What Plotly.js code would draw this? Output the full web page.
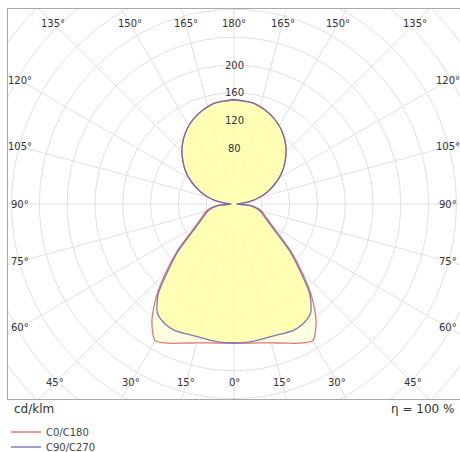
<!DOCTYPE html>
<html><head><meta charset="utf-8">
<script src="https://cdn.plot.ly/plotly-3.0.1.min.js"></script>
<style>html,body{margin:0;padding:0;background:#fff;overflow:hidden}#chart{width:460px;height:452px}</style>
</head><body><div id="chart"></div>
<script>
// Gamma angles (degrees from nadir) and intensities in cd/klm
const gammaAngles = [0,5,10,15,20,25,30,35,40,45,50,55,60,65,70,75,80,85,90,95,100,105,110,115,120,125,130,135,140,145,150,155,160,165,170,175,180];
const c0c180 = [200,201,203,207,213,221,227,206,174,138,108,81,64,54,47,42,34,25,4,13,26,39,51,63,75,86,96,106,115,123,130,136,141,145,148,149,150];
const c90c270 = [200,200,199,198,199,201,199,192,170,133,104,77,61,51,44,39,31,22,4,13,26,39,51,63,75,86,96,106,115,123,130,136,141,145,148,149,150];
const seriesNames = ['C0/C180','C90/C270'];
const gridRadii = [40,80,120,160,200,240,280,320,360,400,440];
const radialTickValues = [80,120,160,200];
const angleLabelStep = 15;
const unitLabel = 'cd/klm';
const efficiencyLabel = 'η = 100 %';

const D = Math.PI/180;
function closedCurve(vals){
  const x=[],y=[];
  for(let i=0;i<gammaAngles.length;i++){const g=gammaAngles[i]*D;x.push(vals[i]*Math.sin(g));y.push(-vals[i]*Math.cos(g));}
  for(let i=gammaAngles.length-1;i>=0;i--){const g=gammaAngles[i]*D;x.push(-vals[i]*Math.sin(g));y.push(-vals[i]*Math.cos(g));}
  return {x,y};
}
const gx=[],gy=[];
gridRadii.forEach(r=>{for(let a=0;a<=360;a+=2){const t=a*D;gx.push(r*Math.cos(t));gy.push(r*Math.sin(t));}gx.push(null);gy.push(null);});
const rx=[],ry=[];
for(let a=0;a<360;a+=angleLabelStep){const t=a*D;rx.push(gridRadii[0]*Math.sin(t),600*Math.sin(t),null);ry.push(-gridRadii[0]*Math.cos(t),-600*Math.cos(t),null);}

const red='#e27676', blue='#6a64b4';
const cr=closedCurve(c0c180), cb=closedCurve(c90c270);
const font='DejaVu Sans, Verdana, sans-serif';
const sm={shape:'spline',smoothing:0.7};
const traces=[
  {x:gx,y:gy,mode:'lines',line:{color:'#e0e0e0',width:1},hoverinfo:'skip',showlegend:false},
  {x:rx,y:ry,mode:'lines',line:{color:'#e0e0e0',width:1},hoverinfo:'skip',showlegend:false},
  {x:cr.x,y:cr.y,mode:'lines',fill:'toself',fillcolor:'rgba(255,255,200,0.55)',line:Object.assign({width:0},sm),hoverinfo:'skip',showlegend:false},
  {x:cb.x,y:cb.y,mode:'lines',fill:'toself',fillcolor:'rgba(255,255,140,0.5)',line:Object.assign({width:0},sm),hoverinfo:'skip',showlegend:false},
  {x:cr.x,y:cr.y,mode:'lines',name:seriesNames[0],line:Object.assign({color:red,width:1.3},sm),legend:'legend'},
  {x:cb.x,y:cb.y,mode:'lines',name:seriesNames[1],line:Object.assign({color:blue,width:1.3},sm),opacity:0.85,legend:'legend2'}
];

const pxPerUnit=0.695;
const W=214/pxPerUnit, Ht=179/pxPerUnit, Hb=181/pxPerUnit;
const ann=[];
for(let a=0;a<360;a+=angleLabelStep){
  const t=a*D, dx=Math.sin(t), dy=-Math.cos(t);
  const H = dy<0?Ht:Hb;
  const s=Math.min(Math.abs(dx)>1e-9?W/Math.abs(dx):1e9, Math.abs(dy)>1e-9?H/Math.abs(dy):1e9);
  const lab = a<=180?a:360-a;
  ann.push({x:s*dx,y:s*dy,xref:'x',yref:'y',text:lab+'°',showarrow:false,font:{family:font,size:10,color:'#333'},xanchor:'center',yanchor:'middle'});
}
radialTickValues.forEach(v=>ann.push({x:0,y:v,xref:'x',yref:'y',text:String(v),showarrow:false,font:{family:font,size:10,color:'#333'},xanchor:'center',yanchor:'middle'}));
ann.push({x:4/452,y:(399-409)/390,xref:'paper',yref:'paper',text:unitLabel,showarrow:false,xanchor:'left',yanchor:'middle',font:{family:font,size:12,color:'#333'}});
ann.push({x:448/452,y:(399-409)/390,xref:'paper',yref:'paper',text:efficiencyLabel,showarrow:false,xanchor:'right',yanchor:'middle',font:{family:font,size:12,color:'#333'}});

const legBase={xref:'container',yref:'container',x:6/460,xanchor:'left',yanchor:'middle',font:{family:font,size:10,color:'#444'},bgcolor:'rgba(0,0,0,0)',borderwidth:0};
const layout={width:460,height:452,margin:{l:8,r:0,t:9,b:53,pad:0,autoexpand:false},paper_bgcolor:'#fff',plot_bgcolor:'#fff',
  xaxis:{range:[-325.2,325.2],showgrid:false,zeroline:false,showticklabels:false,ticks:'',showline:true,mirror:true,linecolor:'#a8a8a8',linewidth:1,fixedrange:true},
  yaxis:{range:[-280.6,280.6],showgrid:false,zeroline:false,showticklabels:false,ticks:'',showline:true,mirror:true,linecolor:'#a8a8a8',linewidth:1,fixedrange:true},
  showlegend:true,
  legend:Object.assign({},legBase,{y:(452-432)/452}),
  legend2:Object.assign({},legBase,{y:(452-447)/452}),
  annotations:ann};
Plotly.newPlot('chart',traces,layout,{staticPlot:true,displayModeBar:false});
</script></body></html>
